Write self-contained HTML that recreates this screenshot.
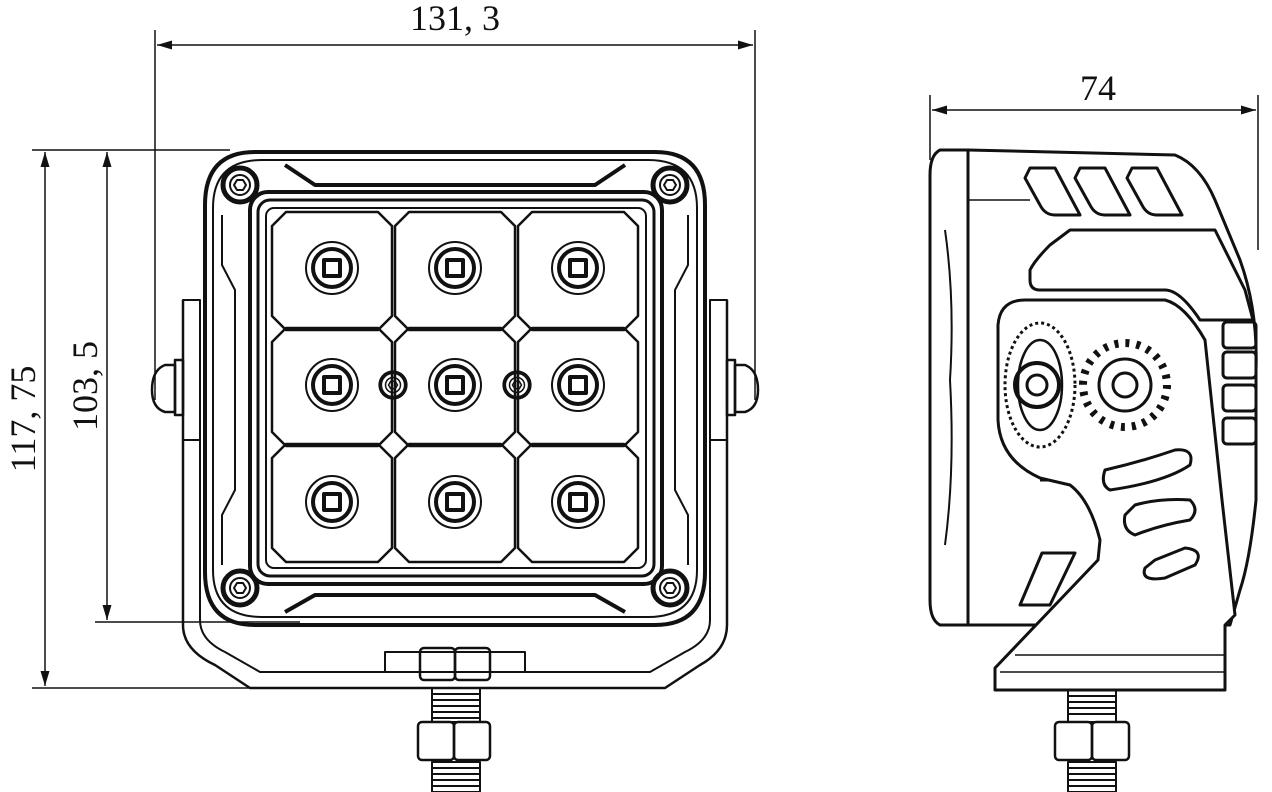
<!DOCTYPE html>
<html><head><style>html,body{margin:0;padding:0;background:#fff}svg{display:block}</style></head><body>
<svg width="1272" height="792" viewBox="0 0 1272 792" xmlns="http://www.w3.org/2000/svg" fill="none" stroke="#111" stroke-width="2.5" stroke-linejoin="round">
<defs>
<g id="led"><circle r="26" stroke-width="2"/><circle r="19" stroke-width="4"/><rect x="-8" y="-8" width="16" height="16" stroke-width="4"/></g>
<g id="cs"><circle r="17" stroke-width="5"/><circle r="10" stroke-width="2"/><polygon points="-6,0 -3,-5 3,-5 6,0 3,5 -3,5" stroke-width="2"/></g>
<g id="cell"><path d="M14,0 H106 L120,14 V104 L106,118 H14 L0,104 V14 Z" stroke-width="2.5"/></g>
<marker id="ar" viewBox="0 0 10 10" refX="10" refY="5" markerWidth="10" markerHeight="10" orient="auto-start-reverse"><path d="M0,2 L10,5 L0,8 Z" fill="#111" stroke="none"/></marker>
</defs>
<g stroke-width="1.5">
<line x1="155" y1="30" x2="155" y2="400"/><line x1="755" y1="30" x2="755" y2="400"/>
<line x1="157" y1="45" x2="753" y2="45" marker-start="url(#ar)" marker-end="url(#ar)"/>
<line x1="32" y1="150" x2="230" y2="150"/><line x1="95" y1="622" x2="300" y2="622"/><line x1="32" y1="688" x2="250" y2="688"/>
<line x1="45" y1="152" x2="45" y2="686" marker-start="url(#ar)" marker-end="url(#ar)"/>
<line x1="107" y1="152" x2="107" y2="620" marker-start="url(#ar)" marker-end="url(#ar)"/>
<line x1="930" y1="95" x2="930" y2="160"/><line x1="1258" y1="95" x2="1258" y2="250"/>
<line x1="932" y1="110" x2="1256" y2="110" marker-start="url(#ar)" marker-end="url(#ar)"/>
</g>
<g font-family="Liberation Serif, serif" font-size="36" fill="#111" stroke="none">
<text x="455" y="30" text-anchor="middle">131, 3</text>
<text x="1098" y="100" text-anchor="middle">74</text>
<text transform="translate(35,419) rotate(-90)" text-anchor="middle">117, 75</text>
<text transform="translate(97,386) rotate(-90)" text-anchor="middle">103, 5</text>
</g>
<path d="M183,300 V625 Q183,650 215,665 L250,688 H665 L700,665 Q727,650 727,625 V300" stroke-width="2.5"/>
<path d="M200,300 V620 Q200,640 225,652 L260,672 H650 L685,652 Q710,640 710,620 V300" stroke-width="2"/>
<rect x="183" y="300" width="17" height="140" stroke-width="2"/><rect x="710" y="300" width="17" height="140" stroke-width="2"/>
<path d="M175,365 H165 Q152,370 152,390 Q152,408 165,412 H175 Z"/><rect x="175" y="360" width="8" height="55"/>
<path d="M735,365 H745 Q758,370 758,390 Q758,408 745,412 H735 Z"/><rect x="727" y="360" width="8" height="55"/>
<path d="M255,152 H655 Q705,152 705,205 V572 Q705,625 655,625 H255 Q205,625 205,572 V205 Q205,152 255,152 Z" stroke-width="4"/>
<path d="M262,160 H648 Q697,160 697,208 V570 Q697,617 648,617 H262 Q213,617 213,570 V208 Q213,160 262,160 Z" stroke-width="2"/>
<path d="M285,165 L315,185 H595 L625,165" stroke-width="4"/>
<path d="M285,612 L315,595 H595 L625,612" stroke-width="4"/>
<path d="M222,215 V265 L235,290 V490 L222,515 V565" stroke-width="2"/>
<path d="M688,215 V265 L675,290 V490 L688,515 V565" stroke-width="2"/>
<rect x="250" y="192" width="412" height="392" rx="18" stroke-width="4"/>
<rect x="258" y="200" width="396" height="376" rx="12" stroke-width="3"/>
<rect x="266" y="208" width="380" height="360" rx="8" stroke-width="2"/>
<g transform="translate(272,212)"><use href="#cell"/></g>
<g transform="translate(395,212)"><use href="#cell"/></g>
<g transform="translate(518,212)"><use href="#cell"/></g>
<g transform="translate(272,328)"><use href="#cell"/></g>
<g transform="translate(395,328)"><use href="#cell"/></g>
<g transform="translate(518,328)"><use href="#cell"/></g>
<g transform="translate(272,444)"><use href="#cell"/></g>
<g transform="translate(395,444)"><use href="#cell"/></g>
<g transform="translate(518,444)"><use href="#cell"/></g>
<g><use href="#led" x="332" y="268"/><use href="#led" x="455" y="268"/><use href="#led" x="578" y="268"/>
<use href="#led" x="332" y="385"/><use href="#led" x="455" y="385"/><use href="#led" x="578" y="385"/>
<use href="#led" x="332" y="502"/><use href="#led" x="455" y="502"/><use href="#led" x="578" y="502"/></g>
<g transform="translate(393,385) scale(0.75)"><use href="#cs"/></g>
<g transform="translate(517,385) scale(0.75)"><use href="#cs"/></g>
<use href="#cs" x="240" y="185"/><use href="#cs" x="670" y="185"/><use href="#cs" x="240" y="588"/><use href="#cs" x="670" y="588"/>
<rect x="385" y="652" width="140" height="20" stroke-width="2"/>
<rect x="420" y="648" width="35" height="32" rx="4" stroke-width="2.5"/><rect x="455" y="648" width="35" height="32" rx="4" stroke-width="2.5"/>
<rect x="432" y="688" width="48" height="34" stroke-width="2"/>
<path d="M432,694 H480 M432,700 H480 M432,706 H480 M432,712 H480 M432,718 H480" stroke-width="2"/>
<rect x="418" y="722" width="36" height="38" rx="4" stroke-width="2.5"/><rect x="454" y="722" width="36" height="38" rx="4" stroke-width="2.5"/>
<rect x="432" y="762" width="48" height="30" stroke-width="2"/>
<path d="M432,768 H480 M432,774 H480 M432,780 H480 M432,786 H480" stroke-width="2"/>
<!-- SIDE VIEW -->
<path d="M940,150 H968 V625 H940 Q930,620 930,600 V175 Q930,155 940,150 Z" stroke-width="3"/>
<path d="M968,150 L1175,155 Q1200,165 1215,200 L1240,260 Q1258,310 1256,370 V500 Q1250,560 1240,590 L1230,625 H968" stroke-width="3"/>
<path d="M945,230 Q955,300 950,380 Q955,470 945,545" stroke-width="2"/>
<path d="M968,200 H1030" stroke-width="1.5"/>
<path d="M1030,168 H1055 L1080,215 H1055 Q1045,215 1040,205 L1025,178 Z" stroke-width="3"/>
<path d="M1080,168 H1105 L1130,215 H1105 Q1095,215 1090,205 L1075,178 Z" stroke-width="3"/>
<path d="M1132,168 H1157 L1182,215 H1157 Q1147,215 1142,205 L1127,178 Z" stroke-width="3"/>
<path d="M1070,230 H1215 L1245,290 L1253,320 H1200 Q1180,290 1165,290 H1040 Q1030,290 1030,280 V270 Q1035,260 1050,245 Z" stroke-width="3"/>
<rect x="1223" y="322" width="33" height="26" rx="4" stroke-width="3"/>
<rect x="1223" y="352" width="33" height="26" rx="4" stroke-width="3"/>
<rect x="1223" y="385" width="33" height="26" rx="4" stroke-width="3"/>
<rect x="1223" y="418" width="33" height="26" rx="4" stroke-width="3"/>
<path d="M1040,480 H1075 Q1085,485 1090,495 L1100,530" stroke-width="3"/>
<path d="M1025,300 H1165 Q1185,305 1205,340 L1222,500 L1235,615 L1225,625 V690 H995 V668 L1098,560 L1100,540 Q1090,500 1070,485 L1040,478 Q1000,460 998,420 V325 Q1000,300 1025,300 Z" stroke-width="3" fill="#fff"/>
<path d="M1042,553 H1075 L1050,605 H1020 Z" stroke-width="3"/>
<path d="M1015,655 H1225 M1000,672 H1225" stroke-width="1.5"/>
<ellipse cx="1040" cy="385" rx="35" ry="62" stroke-width="3" stroke-dasharray="3 3"/>
<ellipse cx="1040" cy="385" rx="22" ry="45" stroke-width="2.5"/>
<circle cx="1037" cy="385" r="22" stroke-width="4"/><circle cx="1037" cy="385" r="10" stroke-width="3"/>
<circle cx="1125" cy="385" r="42" stroke-width="8" stroke-dasharray="4 7"/>
<circle cx="1125" cy="385" r="26" stroke-width="3"/><circle cx="1125" cy="385" r="12" stroke-width="3"/>
<path d="M1105,470 Q1140,462 1175,450 Q1195,448 1190,465 Q1165,482 1110,490 Q1100,485 1105,470 Z" stroke-width="3"/>
<path d="M1135,505 Q1160,498 1190,500 Q1200,510 1190,520 Q1160,525 1135,535 Q1122,530 1125,515 Z" stroke-width="3"/>
<path d="M1155,560 L1185,548 Q1205,550 1195,565 L1165,578 Q1140,582 1145,568 Z" stroke-width="3"/>
<rect x="1068" y="690" width="48" height="32" stroke-width="2"/>
<path d="M1068,696 H1116 M1068,702 H1116 M1068,708 H1116 M1068,714 H1116" stroke-width="2"/>
<rect x="1055" y="722" width="37" height="38" rx="4" stroke-width="2.5"/><rect x="1092" y="722" width="37" height="38" rx="4" stroke-width="2.5"/>
<rect x="1068" y="762" width="48" height="30" stroke-width="2"/>
<path d="M1068,768 H1116 M1068,774 H1116 M1068,780 H1116 M1068,786 H1116" stroke-width="2"/>
</svg>
</body></html>
